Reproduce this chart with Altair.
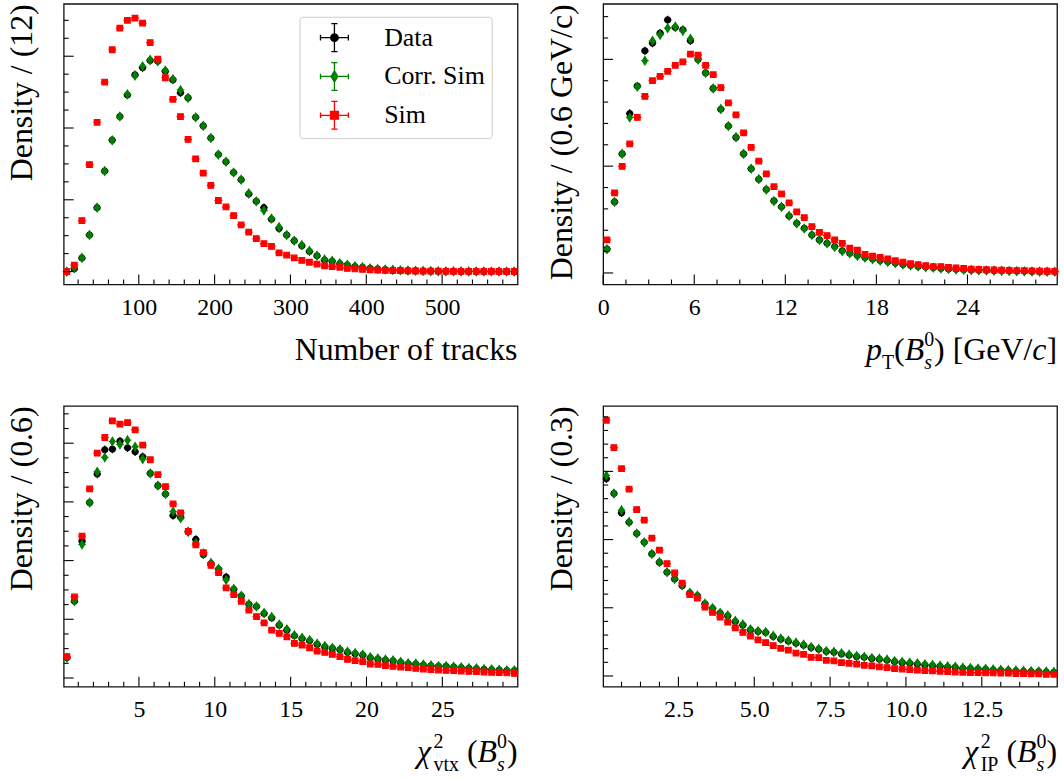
import altair as alt
import pandas as pd
import math

FONT = "Liberation Serif"
SERIES = ["Data", "Corr. Sim", "Sim"]
COLORS = ["#000000", "#008000", "#ff0000"]
NBINS = 60

# ---------------- Panel 1: number of tracks (60 bins over 0-600) ----------------
trk_range = [0.0, 600.0]
trk_data = [0.0, 0.04, 0.19, 0.51, 0.89, 1.40, 1.83, 2.16, 2.46, 2.74,
            2.84, 2.94, 2.93, 2.79, 2.67, 2.49, 2.42, 2.15, 2.03, 1.86,
            1.63, 1.53, 1.38, 1.28, 1.08, 0.98, 0.89, 0.73, 0.60, 0.51,
            0.43, 0.36, 0.28, 0.22, 0.16, 0.145, 0.11, 0.09, 0.07, 0.06,
            0.045, 0.035, 0.028, 0.022, 0.017, 0.013, 0.01, 0.008, 0.006, 0.005,
            0.004, 0.003, 0.003, 0.002, 0.002, 0.002, 0.001, 0.001, 0.001, 0.001]
trk_corr = [0.0, 0.05, 0.19, 0.51, 0.89, 1.40, 1.83, 2.16, 2.47, 2.73,
            2.86, 2.95, 2.93, 2.80, 2.68, 2.53, 2.42, 2.15, 2.03, 1.86,
            1.63, 1.53, 1.38, 1.28, 1.09, 0.98, 0.85, 0.74, 0.62, 0.51,
            0.43, 0.37, 0.29, 0.22, 0.17, 0.15, 0.115, 0.095, 0.075, 0.062,
            0.047, 0.037, 0.029, 0.023, 0.018, 0.014, 0.011, 0.009, 0.007, 0.005,
            0.004, 0.004, 0.003, 0.002, 0.002, 0.002, 0.001, 0.001, 0.001, 0.001]
trk_sim = [0.0, 0.09, 0.71, 1.49, 2.08, 2.64, 3.09, 3.39, 3.50, 3.53,
           3.46, 3.19, 2.96, 2.70, 2.40, 2.16, 1.84, 1.57, 1.37, 1.20,
           0.99, 0.90, 0.78, 0.65, 0.55, 0.46, 0.39, 0.35, 0.26, 0.23,
           0.19, 0.155, 0.13, 0.105, 0.08, 0.07, 0.06, 0.045, 0.036, 0.03,
           0.025, 0.02, 0.017, 0.014, 0.012, 0.01, 0.008, 0.007, 0.006, 0.005,
           0.004, 0.004, 0.003, 0.003, 0.002, 0.002, 0.002, 0.001, 0.001, 0.001]

# ---------------- Panel 2: pT(Bs0) (60 bins over 0-30) ----------------
pt_range = [0.0, 30.0]
pt_data = [0.279, 0.832, 1.394, 1.866, 2.187, 2.60, 2.69, 2.807, 2.962, 2.873,
           2.846, 2.718, 2.50, 2.342, 2.16, 1.916, 1.719, 1.587, 1.394, 1.22,
           1.096, 0.976, 0.844, 0.774, 0.666, 0.581, 0.523, 0.445, 0.387, 0.348,
           0.31, 0.259, 0.232, 0.205, 0.182, 0.163, 0.147, 0.132, 0.116, 0.10,
           0.089, 0.077, 0.07, 0.062, 0.054, 0.046, 0.043, 0.039, 0.035, 0.032,
           0.03, 0.027, 0.025, 0.023, 0.021, 0.019, 0.018, 0.016, 0.015, 0.014]
pt_corr = [0.279, 0.832, 1.394, 1.82, 2.18, 2.485, 2.718, 2.787, 2.865, 2.884,
           2.834, 2.741, 2.497, 2.342, 2.16, 1.92, 1.72, 1.59, 1.394, 1.22,
           1.10, 0.976, 0.84, 0.774, 0.67, 0.58, 0.52, 0.445, 0.387, 0.348,
           0.305, 0.255, 0.23, 0.20, 0.178, 0.16, 0.145, 0.13, 0.114, 0.10,
           0.088, 0.077, 0.069, 0.061, 0.054, 0.046, 0.042, 0.038, 0.035, 0.032,
           0.029, 0.027, 0.025, 0.023, 0.021, 0.019, 0.017, 0.016, 0.015, 0.014]
pt_sim = [0.387, 0.937, 1.247, 1.51, 1.82, 2.067, 2.25, 2.30, 2.36, 2.43,
          2.47, 2.56, 2.55, 2.43, 2.32, 2.17, 1.99, 1.85, 1.64, 1.47,
          1.31, 1.16, 1.01, 0.925, 0.82, 0.716, 0.647, 0.542, 0.476, 0.437,
          0.387, 0.345, 0.29, 0.267, 0.217, 0.197, 0.182, 0.166, 0.143, 0.128,
          0.108, 0.097, 0.085, 0.074, 0.074, 0.066, 0.058, 0.054, 0.046, 0.043,
          0.04, 0.037, 0.034, 0.031, 0.028, 0.026, 0.024, 0.022, 0.02, 0.018]

# ---------------- Panel 3: chi2 vtx (60 bins over 0-30) ----------------
vtx_range = [0.0, 30.0]
vtx_data = [0.345, 1.307, 2.332, 2.988, 3.475, 3.888, 3.899, 4.035, 3.922, 3.854,
            3.769, 3.486, 3.277, 3.135, 2.767, 2.739, 2.496, 2.36, 2.10, 1.947,
            1.851, 1.72, 1.511, 1.398, 1.256, 1.217, 1.098, 1.024, 0.90, 0.815,
            0.719, 0.673, 0.634, 0.572, 0.532, 0.504, 0.481, 0.436, 0.413, 0.39,
            0.345, 0.323, 0.306, 0.294, 0.266, 0.243, 0.238, 0.221, 0.209, 0.198,
            0.198, 0.187, 0.175, 0.164, 0.158, 0.147, 0.141, 0.136, 0.125, 0.125]
vtx_corr = [0.345, 1.307, 2.275, 2.988, 3.514, 3.758, 4.029, 3.979, 4.052, 3.939,
            3.729, 3.486, 3.277, 3.135, 2.835, 2.722, 2.49, 2.30, 2.122, 1.96,
            1.86, 1.67, 1.52, 1.40, 1.26, 1.22, 1.11, 1.04, 0.91, 0.83,
            0.73, 0.685, 0.645, 0.585, 0.545, 0.515, 0.49, 0.448, 0.425, 0.40,
            0.355, 0.333, 0.315, 0.302, 0.275, 0.252, 0.246, 0.229, 0.217, 0.205,
            0.204, 0.193, 0.181, 0.17, 0.164, 0.153, 0.147, 0.141, 0.132, 0.131]
vtx_sim = [0.362, 1.381, 2.417, 3.22, 3.831, 4.097, 4.38, 4.324, 4.352, 4.228,
           3.967, 3.718, 3.463, 3.26, 2.965, 2.813, 2.496, 2.269, 2.134, 1.918,
           1.794, 1.534, 1.42, 1.307, 1.155, 1.047, 0.939, 0.815, 0.758, 0.702,
           0.589, 0.56, 0.515, 0.458, 0.436, 0.402, 0.362, 0.317, 0.294, 0.277,
           0.238, 0.232, 0.209, 0.198, 0.187, 0.175, 0.164, 0.153, 0.141, 0.136,
           0.13, 0.125, 0.119, 0.113, 0.108, 0.102, 0.096, 0.091, 0.085, 0.079]

# ---------------- Panel 4: chi2 IP (60 bins over 0-15) ----------------
ip_range = [0.0, 15.0]
ip_data = [14.46, 13.38, 11.96, 11.27, 10.44, 9.80, 8.95, 8.33, 7.60, 7.11,
           6.62, 6.08, 5.88, 5.29, 4.95, 4.61, 4.41, 4.0, 3.73, 3.38,
           3.26, 3.19, 2.89, 2.70, 2.55, 2.40, 2.25, 2.08, 1.96, 1.79,
           1.74, 1.62, 1.52, 1.42, 1.37, 1.27, 1.23, 1.15, 1.05, 0.98,
           0.93, 0.88, 0.81, 0.76, 0.71, 0.66, 0.64, 0.56, 0.54, 0.51,
           0.49, 0.44, 0.42, 0.39, 0.37, 0.34, 0.32, 0.32, 0.29, 0.27]
ip_corr = [14.7, 13.38, 12.16, 11.3, 10.45, 9.8, 8.95, 8.35, 7.62, 7.12,
           6.65, 6.1, 5.9, 5.3, 4.98, 4.63, 4.45, 4.05, 3.78, 3.42,
           3.3, 3.22, 2.95, 2.75, 2.6, 2.45, 2.3, 2.12, 2.0, 1.83,
           1.78, 1.67, 1.57, 1.47, 1.41, 1.32, 1.27, 1.2, 1.1, 1.03,
           0.98, 0.93, 0.86, 0.81, 0.76, 0.71, 0.68, 0.61, 0.58, 0.55,
           0.53, 0.48, 0.46, 0.43, 0.41, 0.38, 0.36, 0.35, 0.32, 0.30]
ip_sim = [18.75, 16.74, 15.2, 13.7, 12.2, 11.42, 10.1, 9.22, 8.24, 7.55,
          6.81, 5.96, 5.71, 5.05, 4.66, 4.31, 3.95, 3.53, 3.19, 2.92,
          2.65, 2.45, 2.23, 2.03, 1.89, 1.67, 1.59, 1.37, 1.35, 1.15,
          1.10, 0.98, 0.93, 0.86, 0.78, 0.74, 0.66, 0.61, 0.54, 0.51,
          0.47, 0.42, 0.39, 0.37, 0.34, 0.32, 0.29, 0.27, 0.25, 0.25,
          0.22, 0.22, 0.20, 0.20, 0.17, 0.17, 0.15, 0.15, 0.12, 0.12]

# ---------------- styling ----------------
W, H = 456, 282
TITLE_FS = 32
SUB_FS = 20
TICK_FS = 24

# plot markers: unit box [-1,1] -> 20 px at size 400 (marker + error bars)
MARKS = [
    "M-0.38,0H0.38M0,-0.42V0.42M0.3,0A0.3,0.3 0 1,1 -0.3,0A0.3,0.3 0 1,1 0.3,0Z",
    "M-0.38,0H0.38M0,-0.42V0.42M0,-0.42L0.26,0L0,0.42L-0.26,0Z",
    "M-0.4,0H0.4M-0.28,-0.28H0.28V0.28H-0.28Z",
]
# legend symbols: unit box -> 28 px at size 784
CROSS = "M-1,0H1M0,-1V1M-1,-0.2V0.2M1,-0.2V0.2M-0.22,-1H0.22M-0.22,1H0.22"
LEG_MARKS = [
    CROSS + "M0.27,0A0.27,0.27 0 1,1 -0.27,0A0.27,0.27 0 1,1 0.27,0Z",
    CROSS + "M0,-0.4L0.25,0L0,0.4L-0.25,0Z",
    CROSS + "M-0.28,-0.28H0.28V0.28H-0.28Z",
]

# Times/Liberation Serif advance widths (per 1000 em)
REG = {' ': 250, '(': 333, ')': 333, '[': 333, ']': 333, '/': 278, '.': 250,
       '0': 500, '1': 500, '2': 500, 'B': 667, 'G': 722, 'I': 333, 'N': 722,
       'P': 556, 'T': 611, 'V': 722, 'a': 444, 'b': 500, 'c': 444, 'e': 444,
       'f': 333, 'k': 500, 'm': 778, 'n': 500, 'o': 500, 'r': 333, 's': 389,
       't': 278, 'u': 500, 'v': 500, 'x': 500}
ITA = {'p': 500, 'c': 444, 's': 389, 'B': 611, 'χ': 520}

ONE = pd.DataFrame({"k": [0]})


def seg_width(text, size, italic):
    tbl = ITA if italic else REG
    return sum(tbl.get(ch, 500) for ch in text) * size / 1000.0


def centers(rng):
    step = (rng[1] - rng[0]) / NBINS
    return [rng[0] + (i + 0.5) * step for i in range(NBINS)]


def tick_values(dom, step, exclude_step=None):
    out = []
    k = math.ceil(dom[0] / step - 1e-9)
    while k * step <= dom[1] + 1e-9:
        v = round(k * step, 6)
        if exclude_step is None or abs(v / exclude_step - round(v / exclude_step)) > 1e-6:
            out.append(v)
        k += 1
    return out


def title_layers(segs, ybase):
    total = sum(max(seg_width(t, s, it) for t, s, it, dy in item) for item in segs)
    x = W - total
    out = []
    for item in segs:
        for t, s, it, dy in item:
            lead = len(t) - len(t.lstrip(" "))
            shift = seg_width(" " * lead, s, False)
            out.append(
                alt.Chart(ONE).mark_text(
                    text=t.lstrip(" "), font=FONT, fontSize=s,
                    fontStyle="italic" if it else "normal",
                    align="left", baseline="alphabetic", color="black",
                ).encode(x=alt.value(x + shift), y=alt.value(ybase + dy))
            )
        x += max(seg_width(t, s, it) for t, s, it, dy in item)
    return out


def panel(rng, series_vals, xdom, ydom, xmaj, xmin, ymaj, ymin, xfmt, ytitle,
          segs, legend=False):
    xc = centers(rng)
    rows = []
    for name, vals in zip(SERIES, series_vals):
        for x, v in zip(xc, vals):
            rows.append({"x": x, "val": v, "series": name})
    df = pd.DataFrame(rows)
    xs = alt.Scale(domain=xdom, nice=False, zero=False)
    ys = alt.Scale(domain=ydom, nice=False, zero=False)

    xmaj_vals = tick_values(xdom, xmaj)
    xmin_vals = tick_values(xdom, xmin, xmaj)
    ymaj_vals = tick_values([0, ydom[1]], ymaj)
    ymin_vals = tick_values([0, ydom[1]], ymin, ymaj)

    xaxis = alt.Axis(values=xmaj_vals, format=xfmt, title=None, labelFlush=False,
                     ticks=False, tickSize=0, domain=False, grid=False,
                     labelFont=FONT, labelFontSize=TICK_FS, labelColor="black",
                     labelPadding=11, labelOverlap=False)
    yaxis = alt.Axis(labels=False, ticks=False, tickSize=0, domain=False, grid=False,
                     title=ytitle, titleAnchor="end", titleFont=FONT,
                     titleFontSize=TITLE_FS, titleFontWeight="normal",
                     titleColor="black", titlePadding=25)

    layers = []
    for i, (name, col, path) in enumerate(zip(SERIES, COLORS, MARKS)):
        layers.append(
            alt.Chart(df).transform_filter(alt.datum.series == name)
            .mark_point(shape=path, size=400, filled=True, fill=col, stroke=col,
                        strokeWidth=1.2, opacity=1)
            .encode(x=alt.X("x:Q", scale=xs, axis=xaxis),
                    y=alt.Y("val:Q", scale=ys, axis=yaxis))
        )
    for vals, ln in ((xmaj_vals, 10), (xmin_vals, 5)):
        layers.append(
            alt.Chart(pd.DataFrame({"v": vals})).mark_rule(color="black", strokeWidth=1.1)
            .encode(x=alt.X("v:Q", scale=xs, axis=xaxis), y=alt.value(H), y2=alt.value(H - ln))
        )
    for vals, ln in ((ymaj_vals, 10), (ymin_vals, 5)):
        layers.append(
            alt.Chart(pd.DataFrame({"v": vals})).mark_rule(color="black", strokeWidth=1.1)
            .encode(y=alt.Y("v:Q", scale=ys, axis=yaxis), x=alt.value(0), x2=alt.value(ln))
        )
    if legend:
        leg = alt.Legend(title=None, orient="none", legendX=237, legendY=13,
                         direction="vertical", fillColor="white", strokeColor="#cccccc",
                         padding=6, cornerRadius=3, labelFont=FONT, labelFontSize=26,
                         labelColor="black", labelOffset=35, symbolSize=784,
                         symbolStrokeWidth=1.3, symbolOffset=14, rowPadding=5,
                         labelLimit=400, symbolOpacity=1)
        layers.append(
            alt.Chart(pd.DataFrame({"series": SERIES})).transform_filter("false")
            .mark_point(filled=True, strokeWidth=1.3, opacity=1)
            .encode(
                fill=alt.Fill("series:N", scale=alt.Scale(domain=SERIES, range=COLORS), legend=leg),
                stroke=alt.Stroke("series:N", scale=alt.Scale(domain=SERIES, range=COLORS), legend=leg),
                shape=alt.Shape("series:N", scale=alt.Scale(domain=SERIES, range=LEG_MARKS), legend=leg),
            )
        )
    layers += title_layers(segs, H + 76)
    return alt.layer(*layers).properties(width=W, height=H)


S_UP, S_DN = -14, 9
BS0 = [[("B", TITLE_FS, True, 0)], [("s", SUB_FS, True, S_DN), ("0", SUB_FS, False, S_UP)]]

p1 = panel(trk_range, [trk_data, trk_corr, trk_sim], [1, 599.5], [-0.18, 3.73],
           100, 20, 1, 0.25, "d", "Density / (12)",
           [[("Number of tracks", TITLE_FS, False, 0)]], legend=True)
p2 = panel(pt_range, [pt_data, pt_corr, pt_sim], [0, 29.9], [-0.135, 3.15],
           6, 1.5, 1.25, 0.25, "d", "Density / (0.6 GeV/c)",
           [[("p", TITLE_FS, True, 0)], [("T", SUB_FS, False, S_DN)],
            [("(", TITLE_FS, False, 0)]] + BS0 +
           [[(") [GeV/", TITLE_FS, False, 0)], [("c", TITLE_FS, True, 0)],
            [("]", TITLE_FS, False, 0)]])
p3 = panel(vtx_range, [vtx_data, vtx_corr, vtx_sim], [0.04, 29.96], [-0.147, 4.635],
           5, 1, 1, 0.25, "d", "Density / (0.6)",
           [[("χ", TITLE_FS, True, 0)], [("2", SUB_FS, False, S_UP), ("vtx", SUB_FS, False, S_DN)],
            [(" (", TITLE_FS, False, 0)]] + BS0 + [[(")", TITLE_FS, False, 0)]])
p4 = panel(ip_range, [ip_data, ip_corr, ip_sim], [0.02, 14.98], [-0.78, 19.8],
           2.5, 0.625, 5, 1, ".1f", "Density / (0.3)",
           [[("χ", TITLE_FS, True, 0)], [("2", SUB_FS, False, S_UP), ("IP", SUB_FS, False, S_DN)],
            [(" (", TITLE_FS, False, 0)]] + BS0 + [[(")", TITLE_FS, False, 0)]])

chart = alt.concat(
    p1, p2, p3, p4, columns=2,
    spacing={"row": 122, "column": 86}, bounds="flush",
    padding={"left": 5, "top": 1, "right": 2, "bottom": 2},
).configure_view(stroke="#111111", strokeWidth=1.3)

chart.save("out.html", embed_options={"renderer": "svg", "actions": False})
